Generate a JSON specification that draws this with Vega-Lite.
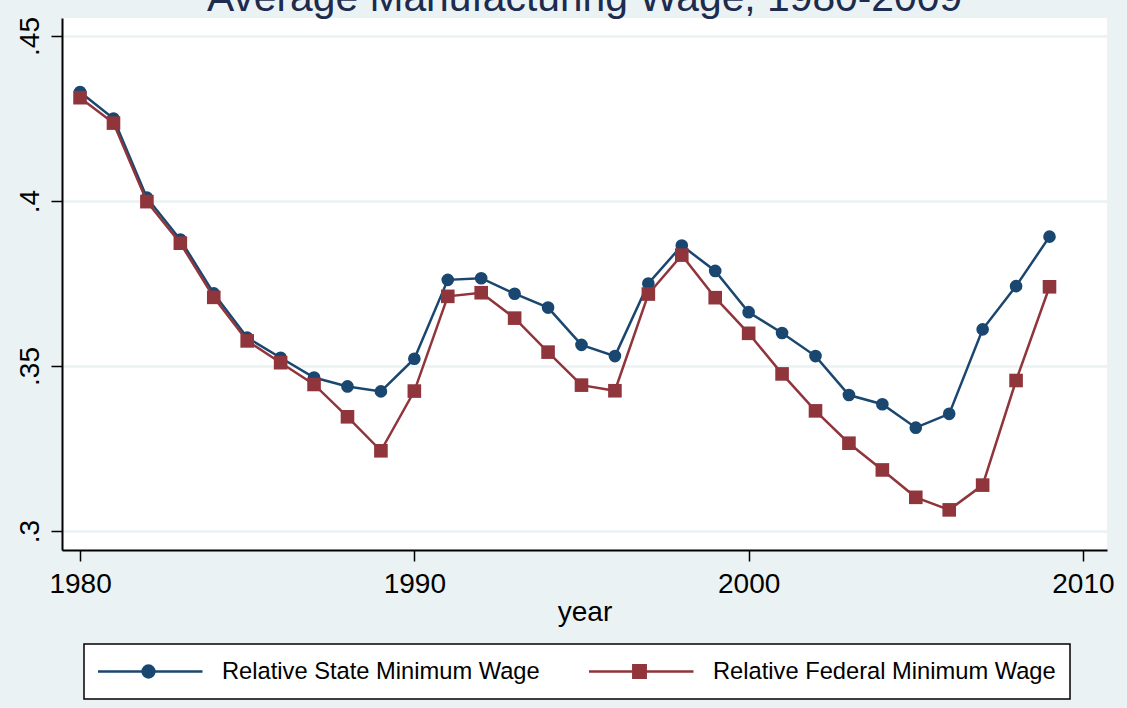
{
  "$schema": "https://vega.github.io/schema/vega-lite/v6.json",
  "autosize": {"type": "none"},
  "width": 1045,
  "height": 532,
  "padding": {"left": 62, "top": 18, "right": 20, "bottom": 158},
  "background": "#eaf2f3",
  "config": {
    "view": {"fill": "white", "stroke": null},
    "font": "Liberation Sans"
  },
  "title": {
    "text": "Average Manufacturing Wage, 1980-2009",
    "font": "Liberation Sans",
    "fontSize": 40.8,
    "fontWeight": "normal",
    "color": "#1c2b4e",
    "anchor": "middle",
    "frame": "group",
    "baseline": "alphabetic",
    "offset": -35
  },
  "data": {
    "values": [
      {"year": 1980, "series": "Relative State Minimum Wage", "value": 0.4330},
      {"year": 1981, "series": "Relative State Minimum Wage", "value": 0.4250},
      {"year": 1982, "series": "Relative State Minimum Wage", "value": 0.4010},
      {"year": 1983, "series": "Relative State Minimum Wage", "value": 0.3883},
      {"year": 1984, "series": "Relative State Minimum Wage", "value": 0.3720},
      {"year": 1985, "series": "Relative State Minimum Wage", "value": 0.3586},
      {"year": 1986, "series": "Relative State Minimum Wage", "value": 0.3525},
      {"year": 1987, "series": "Relative State Minimum Wage", "value": 0.3465},
      {"year": 1988, "series": "Relative State Minimum Wage", "value": 0.3438},
      {"year": 1989, "series": "Relative State Minimum Wage", "value": 0.3423},
      {"year": 1990, "series": "Relative State Minimum Wage", "value": 0.3522},
      {"year": 1991, "series": "Relative State Minimum Wage", "value": 0.3761},
      {"year": 1992, "series": "Relative State Minimum Wage", "value": 0.3766},
      {"year": 1993, "series": "Relative State Minimum Wage", "value": 0.3719},
      {"year": 1994, "series": "Relative State Minimum Wage", "value": 0.3677},
      {"year": 1995, "series": "Relative State Minimum Wage", "value": 0.3564},
      {"year": 1996, "series": "Relative State Minimum Wage", "value": 0.3530},
      {"year": 1997, "series": "Relative State Minimum Wage", "value": 0.3750},
      {"year": 1998, "series": "Relative State Minimum Wage", "value": 0.3865},
      {"year": 1999, "series": "Relative State Minimum Wage", "value": 0.3788},
      {"year": 2000, "series": "Relative State Minimum Wage", "value": 0.3663},
      {"year": 2001, "series": "Relative State Minimum Wage", "value": 0.3600},
      {"year": 2002, "series": "Relative State Minimum Wage", "value": 0.3530},
      {"year": 2003, "series": "Relative State Minimum Wage", "value": 0.3412},
      {"year": 2004, "series": "Relative State Minimum Wage", "value": 0.3384},
      {"year": 2005, "series": "Relative State Minimum Wage", "value": 0.3313},
      {"year": 2006, "series": "Relative State Minimum Wage", "value": 0.3355},
      {"year": 2007, "series": "Relative State Minimum Wage", "value": 0.3611},
      {"year": 2008, "series": "Relative State Minimum Wage", "value": 0.3742},
      {"year": 2009, "series": "Relative State Minimum Wage", "value": 0.3892},
      {"year": 1980, "series": "Relative Federal Minimum Wage", "value": 0.4313},
      {"year": 1981, "series": "Relative Federal Minimum Wage", "value": 0.4236},
      {"year": 1982, "series": "Relative Federal Minimum Wage", "value": 0.3998},
      {"year": 1983, "series": "Relative Federal Minimum Wage", "value": 0.3872},
      {"year": 1984, "series": "Relative Federal Minimum Wage", "value": 0.3708},
      {"year": 1985, "series": "Relative Federal Minimum Wage", "value": 0.3576},
      {"year": 1986, "series": "Relative Federal Minimum Wage", "value": 0.3510},
      {"year": 1987, "series": "Relative Federal Minimum Wage", "value": 0.3444},
      {"year": 1988, "series": "Relative Federal Minimum Wage", "value": 0.3346},
      {"year": 1989, "series": "Relative Federal Minimum Wage", "value": 0.3243},
      {"year": 1990, "series": "Relative Federal Minimum Wage", "value": 0.3424},
      {"year": 1991, "series": "Relative Federal Minimum Wage", "value": 0.3711},
      {"year": 1992, "series": "Relative Federal Minimum Wage", "value": 0.3722},
      {"year": 1993, "series": "Relative Federal Minimum Wage", "value": 0.3645},
      {"year": 1994, "series": "Relative Federal Minimum Wage", "value": 0.3542},
      {"year": 1995, "series": "Relative Federal Minimum Wage", "value": 0.3442},
      {"year": 1996, "series": "Relative Federal Minimum Wage", "value": 0.3425},
      {"year": 1997, "series": "Relative Federal Minimum Wage", "value": 0.3718},
      {"year": 1998, "series": "Relative Federal Minimum Wage", "value": 0.3836},
      {"year": 1999, "series": "Relative Federal Minimum Wage", "value": 0.3707},
      {"year": 2000, "series": "Relative Federal Minimum Wage", "value": 0.3599},
      {"year": 2001, "series": "Relative Federal Minimum Wage", "value": 0.3476},
      {"year": 2002, "series": "Relative Federal Minimum Wage", "value": 0.3364},
      {"year": 2003, "series": "Relative Federal Minimum Wage", "value": 0.3266},
      {"year": 2004, "series": "Relative Federal Minimum Wage", "value": 0.3185},
      {"year": 2005, "series": "Relative Federal Minimum Wage", "value": 0.3102},
      {"year": 2006, "series": "Relative Federal Minimum Wage", "value": 0.3064},
      {"year": 2007, "series": "Relative Federal Minimum Wage", "value": 0.3139},
      {"year": 2008, "series": "Relative Federal Minimum Wage", "value": 0.3456},
      {"year": 2009, "series": "Relative Federal Minimum Wage", "value": 0.3740}
    ]
  },
  "encoding": {
    "x": {
      "field": "year",
      "type": "quantitative",
      "scale": {"domain": [1979.46, 2010.72], "nice": false, "zero": false},
      "axis": {
        "values": [1980, 1990, 2000, 2010],
        "format": "d",
        "grid": false,
        "labelFont": "Liberation Sans",
        "labelFontSize": 28,
        "labelColor": "black",
        "labelPadding": 9,
        "tickColor": "black",
        "tickSize": 11,
        "tickWidth": 1.5,
        "domainColor": "black",
        "domainWidth": 2,
        "title": "year",
        "titleFont": "Liberation Sans",
        "titleFontSize": 28,
        "titleFontWeight": "normal",
        "titleColor": "black",
        "titlePadding": 0
      }
    },
    "y": {
      "field": "value",
      "type": "quantitative",
      "scale": {"domain": [0.29424, 0.45545], "nice": false, "zero": false},
      "axis": {
        "values": [0.3, 0.35, 0.4, 0.45],
        "labelExpr": "substring(format(datum.value, '.2~f'), 1)",
        "labelAngle": 270,
        "labelAlign": "center",
        "labelBaseline": "alphabetic",
        "labelFont": "Liberation Sans",
        "labelFontSize": 28,
        "labelColor": "black",
        "labelPadding": 13,
        "tickColor": "black",
        "tickSize": 11,
        "tickWidth": 1.5,
        "domainColor": "black",
        "domainWidth": 2,
        "grid": true,
        "gridColor": "#eaf2f3",
        "gridWidth": 2.5,
        "title": null
      }
    },
    "color": {
      "field": "series",
      "type": "nominal",
      "scale": {
        "domain": ["Relative State Minimum Wage", "Relative Federal Minimum Wage"],
        "range": ["#1a476f", "#90353b"]
      },
      "legend": {
        "title": null,
        "orient": "none",
        "legendX": 22,
        "legendY": 626,
        "direction": "horizontal",
        "columns": 2,
        "fillColor": "white",
        "strokeColor": "black",
        "padding": 14,
        "clipHeight": 27,
        "symbolSize": 11664,
        "symbolStrokeWidth": 2.5,
        "symbolOffset": -5,
        "labelOffset": 18,
        "columnPadding": 49,
        "labelFont": "Liberation Sans",
        "labelFontSize": 23.7,
        "labelColor": "black",
        "labelLimit": 0,
        "encoding": {
          "legend": {"strokeWidth": {"value": 1.5}},
          "symbols": {
            "shape": {
              "condition": {"test": "datum.value === 'Relative State Minimum Wage'", "value": "M-1,0L1,0M-0.11,0A0.11,0.11,0,1,1,0.11,0A0.11,0.11,0,1,1,-0.11,0Z"},
              "value": "M-1,0L1,0M-0.115,-0.115L0.115,-0.115L0.115,0.115L-0.115,0.115Z"
            },
            "fill": {
              "condition": {"test": "datum.value === 'Relative State Minimum Wage'", "value": "#1a476f"},
              "value": "#90353b"
            },
            "stroke": {
              "condition": {"test": "datum.value === 'Relative State Minimum Wage'", "value": "#1a476f"},
              "value": "#90353b"
            },
            "strokeWidth": {"value": 2.5},
            "opacity": {"value": 1}
          }
        }
      }
    }
  },
  "layer": [
    {
      "transform": [{"filter": "datum.series === 'Relative State Minimum Wage'"}],
      "mark": {"type": "line", "strokeWidth": 2.5}
    },
    {
      "transform": [{"filter": "datum.series === 'Relative State Minimum Wage'"}],
      "mark": {"type": "point", "shape": "circle", "filled": true, "opacity": 1, "size": 160}
    },
    {
      "transform": [{"filter": "datum.series === 'Relative Federal Minimum Wage'"}],
      "mark": {"type": "line", "strokeWidth": 2.5}
    },
    {
      "transform": [{"filter": "datum.series === 'Relative Federal Minimum Wage'"}],
      "mark": {"type": "point", "shape": "square", "filled": true, "opacity": 1, "size": 185}
    }
  ]
}
